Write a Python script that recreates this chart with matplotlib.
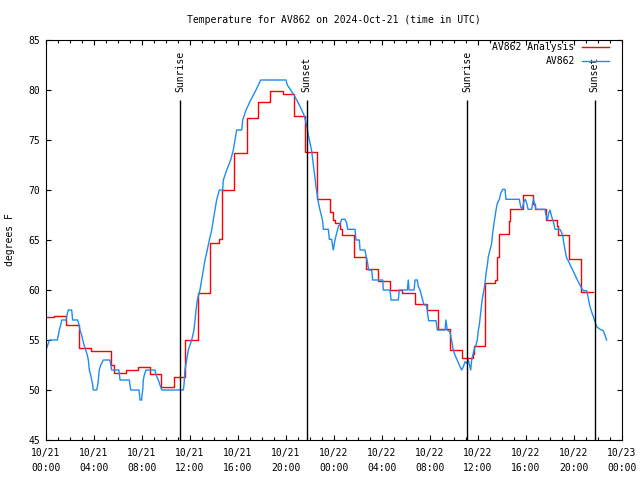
import matplotlib.pyplot as plt
from matplotlib.ticker import MultipleLocator

plt.rcParams["font.family"] = ["DejaVu Sans Mono"]
plt.rcParams["font.size"] = 7

# hours since 2024-10-21 00:00 UTC
obs_hours = [
    0.0, 0.15, 0.28, 0.94, 1.03, 1.11, 1.22, 1.31, 1.67, 1.75, 1.86, 2.14, 2.22,
    2.64, 2.75, 2.83, 2.97, 3.06, 3.17, 3.31, 3.44, 3.53, 3.61, 3.72, 3.81, 3.89,
    3.94, 4.22, 4.31, 4.36, 4.44, 4.56, 4.78, 5.33, 5.40, 5.47, 6.08, 6.12, 6.17,
    6.94, 7.0, 7.06, 7.75, 7.8, 7.83, 7.97, 8.0, 8.06, 8.11, 8.19, 8.33, 9.08,
    9.17, 9.36, 9.5, 9.64, 11.44, 11.5, 11.58, 11.72, 11.86, 12.14, 12.33, 12.42,
    12.5, 12.61, 12.83, 12.97, 13.11, 13.25, 13.44, 13.61, 13.81, 13.94, 14.08,
    14.22, 14.44, 14.72, 14.78, 15.06, 15.39, 15.61, 15.89, 16.31, 16.39, 16.67,
    17.06, 17.5, 17.89, 20.0, 20.11, 20.39, 20.67, 20.89, 21.11, 21.31, 21.5,
    21.72, 21.86, 22.0, 22.14, 22.33, 22.42, 22.5, 22.61, 22.69, 22.83, 23.0,
    23.06, 23.11, 23.53, 23.61, 23.81, 23.87, 23.94, 24.08, 24.22, 24.36, 24.5,
    24.64, 24.92, 25.06, 25.14, 25.75, 25.83, 26.11, 26.17, 26.58, 26.67, 26.78,
    26.89, 27.14, 27.22, 28.06, 28.11, 28.67, 28.75, 29.36, 29.44, 30.11, 30.19,
    30.25, 30.67, 30.75, 30.94, 31.03, 31.17, 31.39, 31.5, 31.72, 31.81, 31.89,
    32.5, 32.61, 33.25, 33.33, 33.44, 33.67, 33.81, 33.94, 34.08, 34.22, 34.44,
    34.64, 34.78, 34.92, 35.06, 35.19, 35.33, 35.39, 35.47, 35.67, 35.83, 35.94,
    36.03, 36.11, 36.22, 36.31, 36.39, 36.5, 36.58, 36.67, 36.78, 36.86, 37.0,
    37.14, 37.22, 37.33, 37.42, 37.5, 37.61, 37.78, 37.89, 38.06, 38.25, 38.33,
    39.44, 39.56, 39.67, 39.83, 39.94, 40.06, 40.17, 40.47, 40.61, 40.72, 40.83,
    41.58, 41.67, 41.78, 41.89, 42.0, 42.14, 42.28, 42.42, 42.83, 43.06, 43.11,
    43.25, 43.39, 43.53, 43.72, 43.89, 44.08, 44.28, 44.5, 44.64, 44.78, 45.06,
    45.19, 45.33, 45.47, 45.61, 45.75, 45.89, 46.17, 46.44, 46.58, 46.72,
]
obs_temps = [
    54.0, 54.5, 55.0, 55.0, 55.5, 56.0, 56.5, 57.0, 57.0, 57.5, 58.0, 58.0, 57.0,
    57.0, 56.5, 56.0, 55.5, 55.0, 54.5, 54.0, 53.5, 53.0, 52.0, 51.5, 51.0, 50.5,
    50.0, 50.0, 50.5, 51.0, 52.0, 52.5, 53.0, 53.0, 52.5, 52.0, 52.0, 51.5, 51.0,
    51.0, 50.5, 50.0, 50.0, 49.5, 49.0, 49.0, 49.5, 50.0, 51.0, 51.5, 52.0, 52.0,
    51.5, 51.0, 50.5, 50.0, 50.0, 50.5, 52.0, 53.0, 54.0, 55.0, 56.0, 57.0,
    58.0, 59.0, 60.0, 61.0, 62.0, 63.0, 64.0, 65.0, 66.0, 67.0, 68.0,
    69.0, 70.0, 70.0, 71.0, 72.0, 73.0, 74.0, 76.0, 76.0, 77.0, 78.0,
    79.0, 80.0, 81.0, 81.0, 80.5, 80.0, 79.5, 79.0, 78.5, 78.0, 77.5,
    76.5, 75.5, 74.7, 73.9, 72.0, 71.2, 70.3, 69.5, 68.8, 68.0, 67.2,
    66.83, 66.07, 66.07, 65.07, 65.07, 64.5, 64.0, 65.0, 65.67, 66.33, 66.6,
    67.07, 67.07, 66.67, 66.07, 66.07, 65.0, 65.0, 64.0, 64.0, 63.4, 62.83,
    62.0, 62.0, 61.0, 61.0, 60.0, 60.0, 59.0, 59.0, 60.0, 60.0, 61.0,
    60.0, 60.0, 61.0, 61.0, 60.33, 60.0, 59.0, 58.5, 58.5, 57.5, 56.93,
    56.93, 56.0, 56.0, 57.0, 56.0, 55.8, 54.9, 54.0, 53.5, 53.1, 52.5,
    52.0, 52.33, 52.83, 52.67, 53.0, 52.33, 52.0, 53.0, 54.0, 54.5, 55.0,
    56.0, 56.5, 57.67, 58.67, 59.33, 60.0, 60.67, 61.67, 62.5, 63.33, 64.0,
    64.67, 65.67, 66.67, 67.33, 68.0, 68.67, 69.07, 69.67, 70.07, 70.07, 69.07,
    69.07, 68.33, 68.07, 68.83, 69.07, 68.67, 68.07, 68.07, 69.07, 68.67, 68.07,
    68.07, 67.5, 67.0, 67.67, 68.0, 67.33, 66.83, 66.07, 66.07, 65.5, 65.0,
    64.0, 63.17, 62.93, 62.4, 62.0, 61.5, 61.0, 60.5, 60.17, 59.93, 59.93,
    59.17, 58.33, 57.83, 57.33, 56.83, 56.33, 56.07, 55.93, 55.5, 55.0,
]

ana_hours = [
    0.0, 0.67, 1.67, 2.72, 3.75, 5.45, 5.67, 6.67, 7.64, 8.67, 9.6, 10.67, 11.6,
    12.63, 13.64, 14.45, 14.68, 15.66, 16.72, 17.65, 18.68, 19.72, 20.66, 21.62,
    22.62, 23.64, 23.9, 24.05, 24.5, 24.68, 25.65, 26.7, 27.67, 28.7, 29.7,
    30.75, 31.75, 32.7, 33.67, 34.7, 35.6, 35.7, 36.56, 37.45, 37.58, 37.72,
    38.58, 38.7, 39.75, 40.6, 40.75, 41.68, 42.62, 42.7, 43.6, 44.62, 45.56,
]
ana_temps = [
    57.27, 57.4, 56.5, 54.17, 53.93, 52.5, 51.67, 52.0, 52.27, 51.6, 50.27, 51.3,
    55.0, 59.67, 64.67, 65.1, 70.0, 73.67, 77.17, 78.83, 79.93, 79.6, 77.4, 73.8,
    69.07, 67.8, 67.0, 66.67, 66.07, 65.47, 63.33, 62.07, 60.9, 60.0, 59.67,
    58.6, 58.0, 56.07, 54.0, 53.17, 53.6, 54.4, 60.67, 61.0, 63.3, 65.57,
    66.9, 68.07, 69.47, 68.6, 68.07, 67.0, 66.4, 65.5, 63.07, 59.83, 59.83,
]

event_hours = [11.17, 21.72, 35.1, 45.72]
event_labels = ["Sunrise", "Sunset", "Sunrise", "Sunset"]

xtick_hours = list(range(0, 49, 4))
xtick_labels = [
    "10/21\n00:00", "10/21\n04:00", "10/21\n08:00", "10/21\n12:00",
    "10/21\n16:00", "10/21\n20:00", "10/22\n00:00", "10/22\n04:00",
    "10/22\n08:00", "10/22\n12:00", "10/22\n16:00", "10/22\n20:00",
    "10/23\n00:00",
]

fig = plt.figure(figsize=(6.4, 4.8), dpi=100)
ax = fig.add_axes([46 / 640, 40 / 480, 576 / 640, 400 / 480])

ax.plot(ana_hours, ana_temps, drawstyle="steps-post", color="#ff0000",
        linewidth=1.0, label="AV862 Analysis")
ax.plot(obs_hours, obs_temps, color="#1e8cf0", linewidth=1.0, label="AV862")

for h, lbl in zip(event_hours, event_labels):
    ax.vlines(h, 45, 79, color="black", linewidth=1.0)
    ax.text(h, 79.8, lbl, rotation=90, ha="center", va="bottom")

ax.set_xlim(0, 48)
ax.set_ylim(45, 85)
ax.set_xticks(xtick_hours)
ax.set_xticklabels(xtick_labels, linespacing=1.6)
ax.xaxis.set_minor_locator(MultipleLocator(1))
ax.yaxis.set_major_locator(MultipleLocator(5))
ax.tick_params(which="both", direction="in", top=True, right=True,
               width=0.8, color="black")
ax.tick_params(which="major", length=3.5)
ax.tick_params(which="minor", length=2.5)
ax.tick_params(axis="x", pad=6)
ax.tick_params(axis="y", pad=4)
for s in ax.spines.values():
    s.set_linewidth(0.8)

ax.set_ylabel("degrees F", labelpad=10)
ax.set_title("Temperature for AV862 on 2024-Oct-21 (time in UTC)",
             fontsize=7, pad=12)

ax.legend(loc="upper right", bbox_to_anchor=(0.977, 0.995), frameon=False,
          markerfirst=False, borderpad=0, borderaxespad=0, handlelength=2.8,
          handletextpad=0.7, labelspacing=0.45)

plt.savefig("out.png", dpi=100)
